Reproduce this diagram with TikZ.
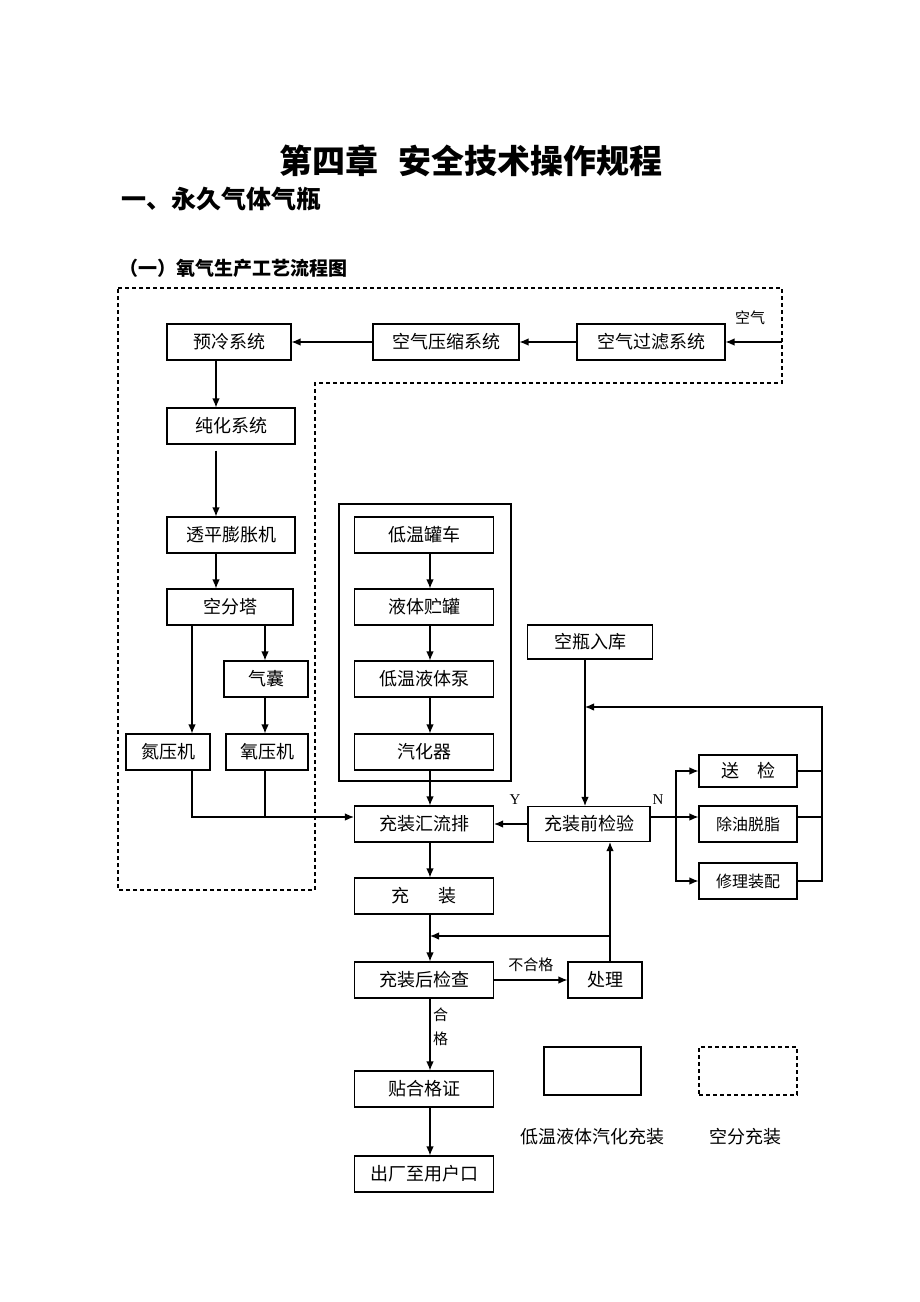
\documentclass[tikz,border=0pt]{standalone}
\usepackage{fontspec}
\setmainfont{Noto Sans CJK SC}
\newfontfamily\latin{Liberation Serif}
\usetikzlibrary{arrows,arrows.meta}

\newcommand{\taille}[1]{\fontsize{#1}{#1}\selectfont}

\begin{document}
\begin{tikzpicture}[x=1pt,y=-1pt]
	\tikzstyle{lien}=[-,line width=1.2pt]
	\tikzstyle{fleche}=[->,>={Latex[length=9pt,width=7.5pt]},line width=1.2pt]
	\tikzstyle{pointille}=[line width=1.1pt,dash pattern=on 4pt off 3pt]
	\tikzset{boite/.style={draw,line width=1.1pt,minimum height=36pt,inner sep=0pt,font=\taille{18}},boite/.default={},
		etiquette/.style={inner sep=0pt,font=\taille{15}}}
	\useasboundingbox (0,0) rectangle (920,1302);
	% titres
	\node (titre) at (471,161) {\bfseries\taille{33}第四章\hspace{0.6em}安全技术操作规程};
	\node[anchor=west] (partie) at (118,199) {\bfseries\taille{25}一、永久气体气瓶};
	\node[anchor=west] (section) at (116,268) {\bfseries\taille{19}（一）氧气生产工艺流程图};
	% cadres
	\draw[pointille] (118,288) -- (782,288) -- (782,383) -- (315,383) -- (315,890) -- (118,890) -- cycle;
	\draw[line width=1.1pt] (339,504) rectangle (511,781);
	% colonnes et lignes de raccord
	\coordinate (colA) at (216,0);
	\coordinate (colN) at (192,0);
	\coordinate (colO) at (265,0);
	\coordinate (colB) at (430,0);
	\coordinate (colC) at (585,0);
	\coordinate (colD) at (610,0);
	\coordinate (colE) at (676,0);
	\coordinate (colF) at (822,0);
	\coordinate (rowR) at (0,707);
	\coordinate (rowH) at (0,817);
	\coordinate (rowK) at (0,936);
	\coordinate (entree) at (782,342);
	% air separation
	\node[boite,minimum width=124pt] (yuleng) at (229,342) {预冷系统};
	\node[boite,minimum width=146pt] (kongya) at (446,342) {空气压缩系统};
	\node[boite,minimum width=148pt] (guolv) at (651,342) {空气过滤系统};
	\node[etiquette] (air) at (750,318) {空气};
	\node[boite,minimum width=128pt] (chunhua) at (231,426) {纯化系统};
	\node[boite,minimum width=128pt] (touping) at (231,535) {透平膨胀机};
	\node[boite,minimum width=126pt] (kongfen) at (230,607) {空分塔};
	\node[boite,minimum width=84pt] (qinang) at (266,679) {气囊};
	\node[boite,minimum width=84pt] (danya) at (168,752) {氮压机};
	\node[boite,minimum width=82pt] (yangya) at (267,752) {氧压机};
	% cryogenic
	\node[boite,minimum width=139pt] (guanche) at (424,535) {低温罐车};
	\node[boite,minimum width=139pt] (zhuguan) at (424,607) {液体贮罐};
	\node[boite,minimum width=139pt] (beng) at (424,679) {低温液体泵};
	\node[boite,minimum width=139pt] (qihua) at (424,752) {汽化器};
	% filling
	\node[boite,minimum width=139pt] (huiliu) at (424,824) {充装汇流排};
	\node[boite,minimum width=139pt] (chongzhuang) at (424,896) {充\hspace{1.6em}装};
	\node[boite,minimum width=139pt] (houjian) at (424,980) {充装后检查};
	\node[boite,minimum width=139pt] (hege) at (424,1089) {贴合格证};
	\node[boite,minimum width=139pt] (chuchang) at (424,1174) {出厂至用户口};
	\node[boite,minimum width=74pt] (chuli) at (605,980) {处理};
	\node[boite,minimum width=125pt,minimum height=34pt] (kongping) at (590,642) {空瓶入库};
	\node[boite,minimum width=122pt,minimum height=35pt] (qianjian) at (589,824) {充装前检验};
	\node[boite,minimum width=98pt,minimum height=32pt] (songjian) at (748,771) {送\hspace{1em}检};
	\node[boite,minimum width=98pt,font=\taille{16}] (chuyou) at (748,824) {除油脱脂};
	\node[boite,minimum width=98pt,font=\taille{16}] (xiuli) at (748,881) {修理装配};
	% legende
	\node[draw,line width=1.1pt,minimum width=97pt,minimum height=48pt] (legA) at (592.5,1071) {};
	\node[draw,pointille,minimum width=98pt,minimum height=48pt] (legB) at (748,1071) {};
	\node[font=\taille{18}] (txtA) at (592,1137) {低温液体汽化充装};
	\node[font=\taille{18}] (txtB) at (745,1137) {空分充装};
	% fleches air
	\draw[fleche] (entree) -- (guolv);
	\draw[fleche] (guolv) -- (kongya);
	\draw[fleche] (kongya) -- (yuleng);
	\draw[fleche] (yuleng.south -| colA) -- (chunhua.north -| colA);
	\draw[fleche] ([yshift=-6pt]chunhua.south -| colA) -- (touping.north -| colA);
	\draw[fleche] (touping.south -| colA) -- (kongfen.north -| colA);
	\draw[fleche] (kongfen.south -| colN) -- (danya.north -| colN);
	\draw[fleche] (kongfen.south -| colO) -- (qinang.north -| colO);
	\draw[fleche] (qinang.south -| colO) -- (yangya.north -| colO);
	\draw[fleche] (danya.south -| colN) |- (huiliu.west |- rowH);
	\draw[lien] (yangya.south -| colO) -- (colO |- rowH);
	% chaine centrale
	\foreach \a/\b in {guanche/zhuguan,zhuguan/beng,beng/qihua,qihua/huiliu,huiliu/chongzhuang,chongzhuang/houjian,houjian/hege,hege/chuchang}
		\draw[fleche] (\a.south -| colB) -- (\b.north -| colB);
	\node[etiquette,anchor=north west,align=center] (lbhege) at (433,1008) {合\\[9pt]格};
	\draw[fleche] (houjian) -- (chuli) node[etiquette,midway,above=8pt] (lbnon) {不合格};
	\draw[fleche] (chuli.north -| colD) -- (qianjian.south -| colD);
	\draw[fleche] (colD |- rowK) -- (colB |- rowK);
	% controle avant remplissage
	\draw[fleche] (kongping.south -| colC) -- (qianjian.north -| colC);
	\draw[fleche] (qianjian) -- (huiliu);
	\node[font=\latin\taille{15}] (lby) at (515,800) {Y};
	\node[font=\latin\taille{15}] (lbn) at (658,800) {N};
	\draw[fleche] (qianjian.east |- rowH) -- (chuyou.west |- rowH);
	\draw[fleche] (colE |- rowH) |- (songjian.west);
	\draw[fleche] (colE |- rowH) |- (xiuli.west);
	\draw[lien] (songjian.east) -- (colF |- songjian.east);
	\draw[lien] (chuyou.east |- rowH) -- (colF |- rowH);
	\draw[fleche] (xiuli.east) -| (colF |- rowR) -- (colC |- rowR);
\end{tikzpicture}
\end{document}
